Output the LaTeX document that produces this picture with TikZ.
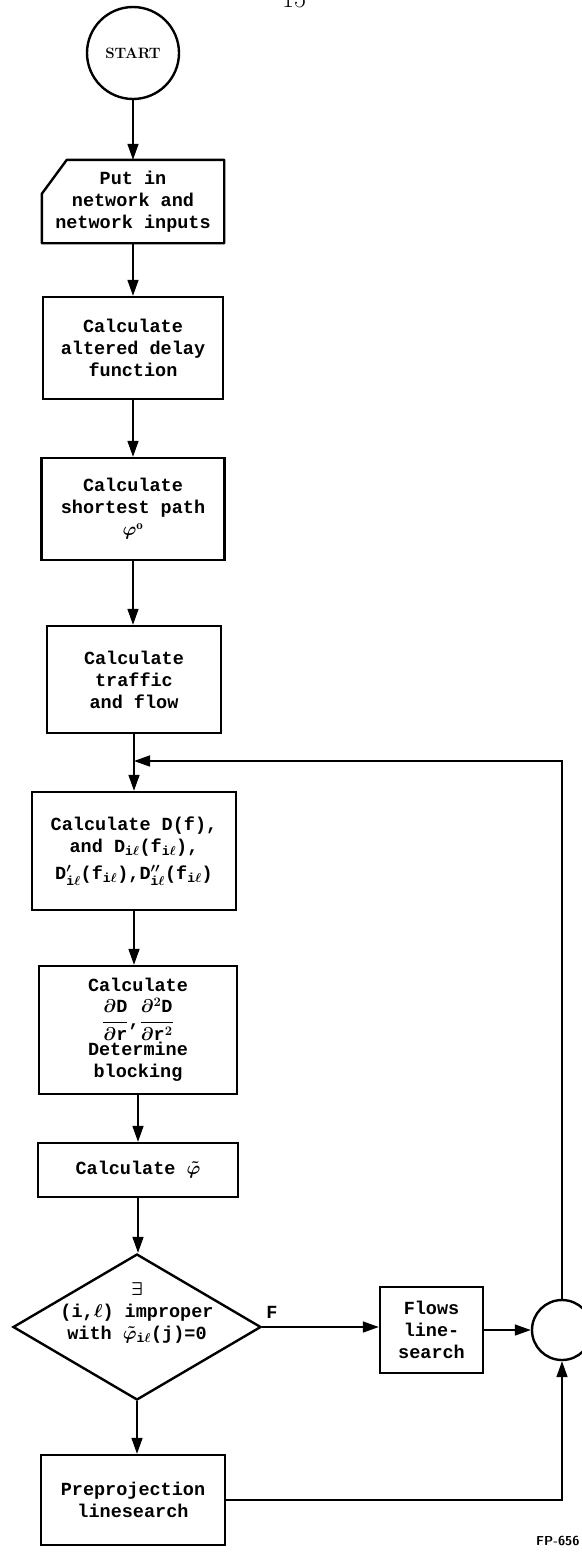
\documentclass[tikz,border=0pt]{standalone}
\usepackage{fix-cm}
\usepackage{amsmath,amssymb}
\usepackage{fontspec}
\setmonofont{Liberation Mono}
\usetikzlibrary{arrows.meta,shapes.geometric}
\newcommand{\boxfont}{\ttfamily\bfseries\boldmath\fontsize{18.5}{22}\selectfont}
\newcommand{\il}{_{\text{\ttfamily i}\ell}}

\begin{document}
\begin{tikzpicture}[
      x=1pt, y=-1pt,
      block/.style={draw=black, line width=2.4pt, inner sep=0pt,
                    align=center, font=\boxfont},
      decision/.style={draw=black, diamond, line width=2.4pt, inner sep=0pt},
      terminal/.style={draw=black, circle, line width=2.4pt, inner sep=0pt},
      arrow/.style={-{Triangle[length=16pt,width=11pt]}, line width=1.6pt},
    ]
    \useasboundingbox (0,0) rectangle (581,1552);
    \node[font=\rmfamily\fontsize{26}{30}\selectfont, anchor=base] (pagenum) at (294,8) {15};

    \node[terminal, minimum size=92, font=\rmfamily\bfseries\fontsize{15}{18}\selectfont] (start) at (133,53) {START};
    \node[inner sep=0pt, minimum width=182, minimum height=83,
          align=center, font=\boxfont] (input) at (133,201.5) {Put in\\network and\\network inputs};
    \draw[line width=2.4pt, line join=round] (input.south west) -- (input.south east)
      -- (input.north east) -- ([xshift=25pt]input.north west)
      -- ([yshift=-34pt]input.north west) -- cycle;
    \node[block, minimum width=180, minimum height=102] (alter) at (133,348) {Calculate\\altered delay\\function};
    \node[block, minimum width=183, minimum height=102] (path) at (133,509) {Calculate\\shortest path\\$\varphi^{\mathrm{o}}$};
    \node[block, minimum width=174, minimum height=107] (traffic) at (134,679.5) {Calculate\\traffic\\and flow};
    \node[block, minimum width=204, minimum height=118] (deriv) at (134,851)
      {Calculate D(f),\\and D$\il$(f$\il$),\\[5pt]D$'\il$(f$\il$),D$''\il$(f$\il$)};
    \node[block, minimum width=198, minimum height=128] (blocking) at (138,1030)
      {Calculate\\[5pt]$\dfrac{\partial\mathtt{D}}{\partial\mathtt{r}}$,$\dfrac{\partial^{2}\mathtt{D}}{\partial\mathtt{r}^{2}}$\\[1pt]Determine\\blocking};
    \node[block, minimum width=200, minimum height=54] (phi) at (138,1170) {Calculate $\tilde{\varphi}$};
    \node[decision, minimum width=248, minimum height=146,
          label={[font=\boxfont, align=center, yshift=14pt]center:{$\exists$\\(i,$\ell$) improper\\with $\tilde{\varphi}\il$(j)=0}}] (test) at (137,1327) {};
    \node[block, minimum width=103, minimum height=86] (flows) at (431.5,1330) {Flows\\line-\\search};
    \node[terminal, minimum size=60] (join) at (562,1330) {};
    \node[block, minimum width=184, minimum height=90] (prepro) at (133,1500) {Preprojection\\linesearch};
    \coordinate (merge) at (134,761);
    \node[font=\boxfont] (flabel) at (272,1312) {F};
    \node[font=\sffamily\bfseries\fontsize{13}{15}\selectfont, anchor=east] (tag) at (583,1541) {FP-656};

    \draw[arrow] (start) -- (start |- input.north); \draw[arrow] (input) -- (alter);
    \draw[arrow] (alter) -- (path); \draw[arrow] (path) -- (path |- traffic.north);
    \draw[arrow] (traffic) -- (deriv); \draw[arrow] (deriv) -- (deriv |- blocking.north);
    \draw[arrow] (blocking) -- (phi); \draw[arrow] (phi) -- (phi |- test.north);
    \draw[arrow] (test.south) -- (test.south |- prepro.north);
    \draw[arrow] (test.east) -- (test.east -| flows.west);
    \draw[arrow] (flows) -- (join);
    \draw[arrow] (prepro.east) -| (join.south);
    \draw[arrow] (join.north) |- (merge);
  \end{tikzpicture}
\end{document}
